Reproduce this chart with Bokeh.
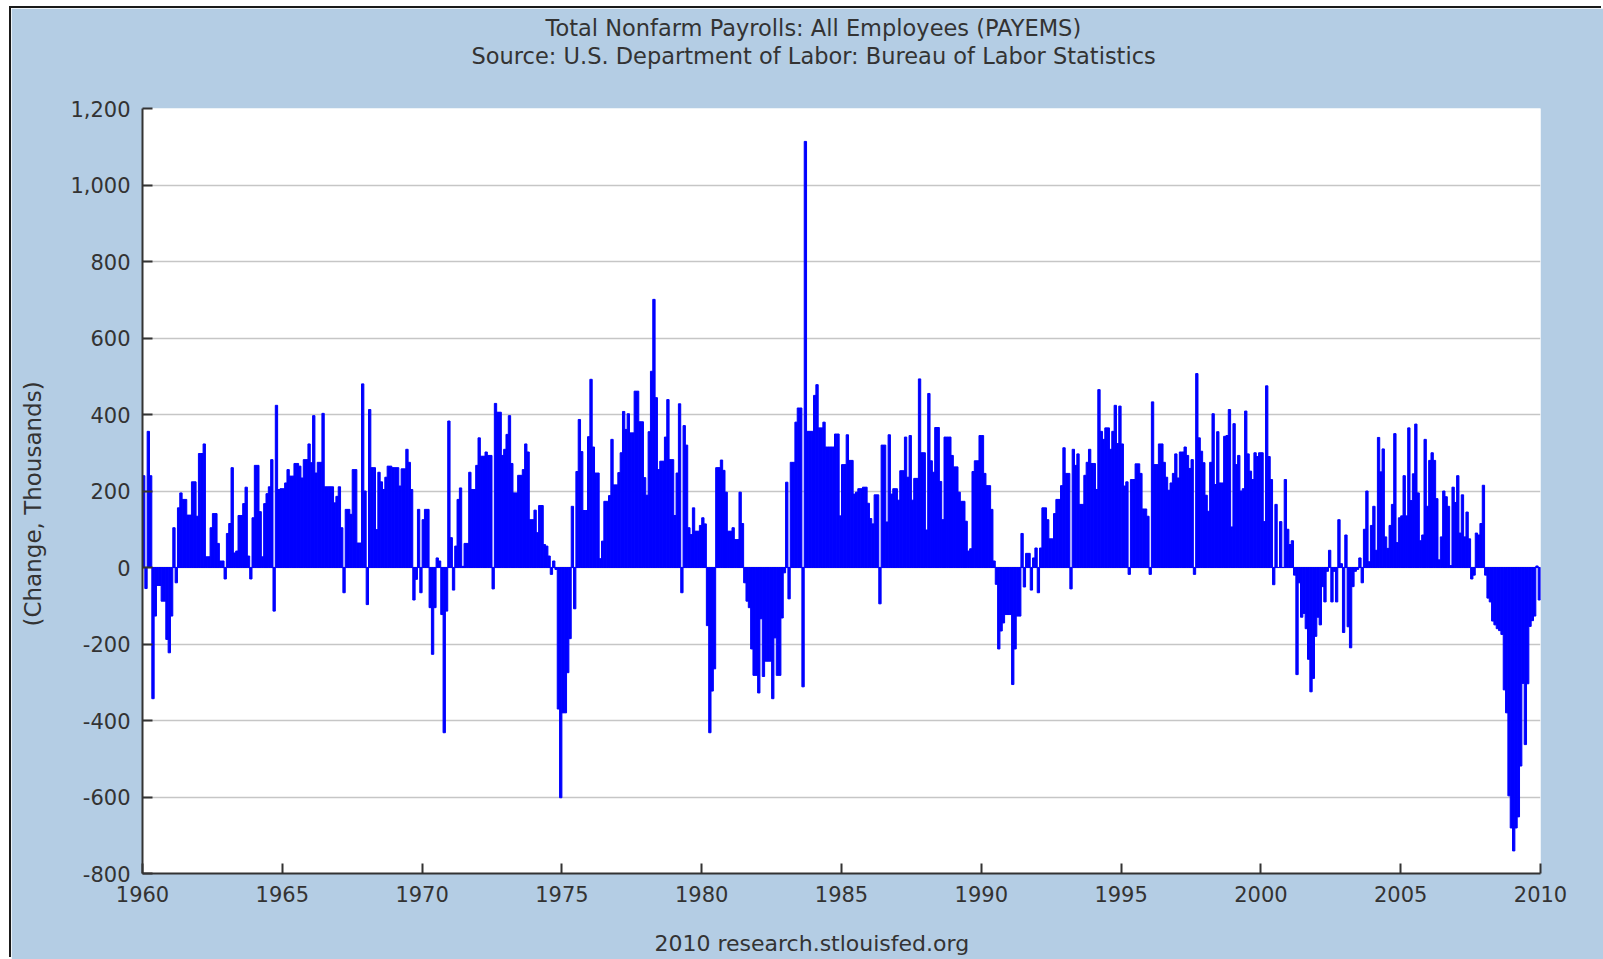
from bokeh.plotting import figure
from bokeh.models import FixedTicker, NumeralTickFormatter, Title, ColumnDataSource
from bokeh.embed import file_html
from bokeh.resources import INLINE

# Monthly change in total nonfarm payrolls (thousands), Jan of first year .. Dec of last year
payems_1960s = [
    240, -55, 356, 240, -343, -127, -47, -47, -88, -88, -188, -223,
    -127, 104, -40, 156, 195, 178, 178, 137, 137, 224, 224, 134,
    298, 298, 323, 28, 28, 104, 141, 141, 63, 17, 17, -30,
    89, 115, 261, 38, 43, 136, 136, 167, 210, 30, -30, 130,
    267, 267, 146, 28, 167, 193, 211, 282, -114, 424, 204, 206,
    206, 221, 256, 239, 239, 272, 272, 265, 234, 282, 282, 323,
    274, 397, 247, 275, 275, 403, 211, 211, 211, 211, 169, 186,
    211, 104, -66, 152, 152, 139, 256, 256, 64, 64, 480, 200,
    -97, 413, 261, 261, 99, 249, 224, 204, 236, 265, 265, 261,
    261, 261, 213, 258, 258, 309, 275, 204, -85, -31, 152, -66,
]
payems_1970s = [
    125, 152, 152, -105, -227, -105, 25, 17, -123, -432, -114, 383,
    78, -59, 56, 178, 208, 3, 63, 63, 249, 204, 204, 267,
    339, 291, 291, 302, 293, 293, -56, 429, 406, 406, 293, 309,
    348, 397, 272, 195, 195, 241, 241, 256, 323, 302, 125, 125,
    150, 91, 162, 162, 60, 56, 30, -18, 17, -5, -370, -602,
    -380, -380, -275, -186, 160, -108, 251, 387, 303, 149, 149, 342,
    492, 315, 247, 247, 23, 69, 173, 173, 188, 335, 216, 216,
    248, 300, 408, 361, 402, 352, 352, 461, 461, 381, 381, 235,
    189, 355, 513, 701, 444, 256, 278, 278, 341, 439, 282, 282,
    136, 247, 428, -66, 371, 320, 104, 86, 156, 95, 95, 110,
]
payems_1980s = [
    130, 114, -152, -432, -323, -265, 261, 261, 281, 254, 197, 95,
    95, 104, 73, 73, 197, 115, -40, -88, -105, -213, -282, -282,
    -328, -134, -285, -245, -245, -245, -343, -184, -282, -282, -132, -14,
    223, -82, 275, 275, 380, 417, 417, -312, 1114, 356, 356, 356,
    450, 478, 365, 365, 380, 315, 315, 315, 315, 349, 349, 135,
    269, 269, 347, 280, 280, 192, 197, 206, 206, 210, 210, 168,
    128, 114, 190, 190, -95, 320, 320, 119, 347, 192, 206, 206,
    176, 253, 253, 341, 236, 345, 176, 233, 233, 493, 300, 300,
    98, 455, 279, 249, 366, 366, 225, 125, 341, 341, 341, 293,
    263, 263, 197, 173, 173, 121, 43, 49, 251, 279, 279, 345,
]
payems_1990s = [
    345, 246, 214, 214, 152, 17, -44, -213, -166, -145, -123, -123,
    -123, -306, -213, -127, -127, 89, -51, 37, 37, -59, 25, 51,
    -66, 51, 156, 156, 125, 75, 75, 141, 178, 178, 214, 313,
    246, 246, -56, 309, 267, 297, 165, 165, 241, 275, 309, 272,
    272, 204, 465, 356, 335, 365, 365, 309, 356, 424, 324, 422,
    323, 213, 224, -18, 230, 230, 271, 271, 246, 153, 153, 134,
    -18, 433, 269, 269, 323, 323, 275, 236, 202, 221, 246, 297,
    234, 302, 302, 315, 293, 259, 282, -18, 507, 339, 304, 274,
    189, 147, 275, 402, 217, 355, 221, 221, 343, 345, 413, 106,
    376, 269, 293, 200, 206, 409, 297, 252, 230, 300, 290, 300,
]
payems_2000s = [
    300, 120, 475, 290, 230, -45, 165, 0, 120, 0, 230, 100,
    60, 70, -20, -280, -40, -130, -120, -160, -240, -325, -290, -180,
    -130, -150, -50, -90, -10, 45, -90, -10, -90, 125, 10, -170,
    85, -155, -210, -50, -10, -5, 25, -40, 100, 200, 15, 110,
    160, 45, 340, 250, 310, 80, 50, 110, 165, 350, 65, 130,
    135, 240, 135, 365, 175, 245, 375, 195, 70, 85, 335, 160,
    280, 300, 280, 180, 20, 80, 200, 185, 160, 5, 210, 170,
    240, 90, 190, 80, 145, 75, -30, -20, 90, 85, 115, 215,
    -20, -80, -90, -140, -150, -160, -165, -175, -320, -380, -597, -681,
    -741, -681, -652, -519, -303, -463, -304, -154, -139, -127, 4, -85,
]
start_year = 1960
x_ticks = [1960, 1965, 1970, 1975, 1980, 1985, 1990, 1995, 2000, 2005, 2010]
y_ticks = [-800, -600, -400, -200, 0, 200, 400, 600, 800, 1000, 1200]
title_line1 = "Total Nonfarm Payrolls: All Employees (PAYEMS)"
title_line2 = "Source: U.S. Department of Labor: Bureau of Labor Statistics"
footer_text = "2010 research.stlouisfed.org"
y_label = "(Change, Thousands)"

values = payems_1960s + payems_1970s + payems_1980s + payems_1990s + payems_2000s
months = [start_year + (i + 0.5) / 12.0 for i in range(len(values))]
src = ColumnDataSource(data=dict(x=months, top=values))

BG = "#b4cde4"
TXT = "#333333"
BAR = "#0000ff"
FONT = "DejaVu Sans"
TICK_FS = "21px"
TITLE_FS = "22.5px"

p = figure(width=1592, height=951, x_range=(1960, 2010), y_range=(-800, 1200),
           output_backend="svg", toolbar_location=None,
           min_border_left=131, min_border_right=63, min_border_top=100, min_border_bottom=86,
           background_fill_color="white", border_fill_color=BG,
           styles={"margin-left": "11px", "margin-top": "8px",
                   "box-shadow": "-2px -2px 0 0 #1a1a1a"})
p.outline_line_color = None

p.vbar(x="x", top="top", bottom=0, width=1.0 / 12, source=src,
       fill_color=BAR, line_color=BAR, line_width=1.0)

p.xgrid.grid_line_color = None
p.ygrid.grid_line_color = "#c6c6c6"
p.ygrid.grid_line_width = 1.5
p.ygrid.ticker = FixedTicker(ticks=y_ticks)

p.xaxis.ticker = FixedTicker(ticks=x_ticks)
p.yaxis.ticker = FixedTicker(ticks=y_ticks)
p.yaxis.formatter = NumeralTickFormatter(format="0,0")
for ax in (p.xaxis[0], p.yaxis[0]):
    ax.axis_line_color = TXT
    ax.axis_line_width = 2
    ax.major_tick_line_color = TXT
    ax.major_tick_line_width = 2
    ax.major_tick_in = 10
    ax.major_tick_out = 0
    ax.minor_tick_line_color = None
    ax.major_label_text_font = FONT
    ax.major_label_text_font_size = TICK_FS
    ax.major_label_text_color = TXT
    ax.major_label_standoff = 12

common = dict(align="left", text_font=FONT, text_font_style="normal", text_color=TXT)
# headings (outermost first line, spacer next to the frame)
p.title = Title(text=title_line1, text_font_size=TITLE_FS, offset=403, standoff=0, **common)
p.add_layout(Title(text=" ", text_font_size="10px", standoff=27, **common), "above")
p.add_layout(Title(text=title_line2, text_font_size=TITLE_FS, offset=329, standoff=0, **common), "above")
# footer below the x axis
p.add_layout(Title(text=" ", text_font_size="10px", standoff=11, **common), "below")
p.add_layout(Title(text=footer_text, text_font_size="22px", offset=512, standoff=0, **common), "below")
# vertical axis caption, placed a little below the frame centre as in the original
p.add_layout(Title(text=" ", text_font_size="10px", standoff=9, **common), "left")
p.add_layout(Title(text=y_label, text_font_size="23px", offset=247, standoff=0, **common), "left")

open("out.html", "w").write(file_html(p, INLINE))
